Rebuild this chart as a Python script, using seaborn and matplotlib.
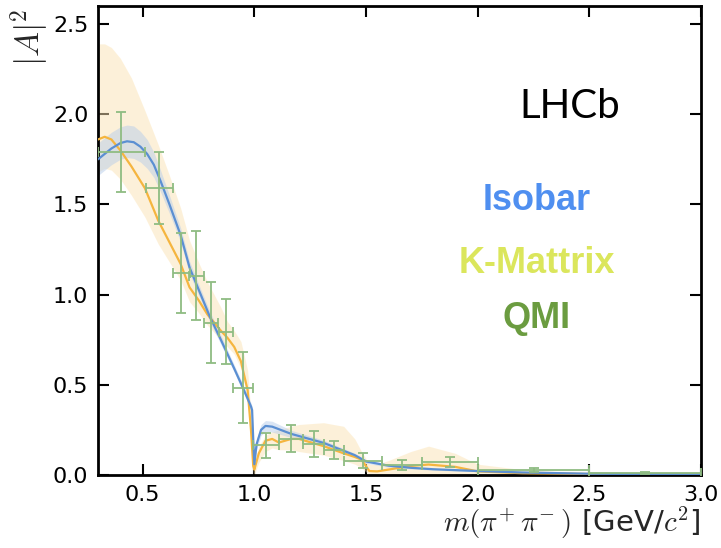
import numpy as np
import pandas as pd
import matplotlib
matplotlib.use("Agg")
import matplotlib.pyplot as plt
import seaborn as sns

# ---- Isobar model curve and band ----
iso_x = [0.30, 0.33, 0.36, 0.40, 0.43, 0.46, 0.49, 0.52, 0.55, 0.58, 0.62, 0.67, 0.71, 0.76, 0.80, 0.85, 0.91, 0.95, 0.985,
         0.99, 0.995, 1.00, 1.01, 1.03, 1.05, 1.08, 1.165, 1.31, 1.45, 1.50, 1.60, 1.70, 1.80, 2.00, 2.20, 2.50, 3.00]
iso_y = [1.75, 1.78, 1.81, 1.84, 1.85, 1.845, 1.82, 1.78, 1.72, 1.63, 1.50, 1.33, 1.15, 1.00, 0.88, 0.75, 0.59, 0.48, 0.38,
         0.36, 0.20, 0.06, 0.17, 0.25, 0.272, 0.268, 0.228, 0.178, 0.11, 0.075, 0.052, 0.040, 0.032, 0.022, 0.014, 0.007, 0.003]
iso_err = [0.09, 0.09, 0.09, 0.09, 0.09, 0.09, 0.085, 0.08, 0.07, 0.06, 0.05, 0.04, 0.035, 0.03, 0.03, 0.025, 0.02, 0.02, 0.02,
           0.02, 0.02, 0.02, 0.03, 0.03, 0.03, 0.03, 0.02, 0.015, 0.01, 0.01, 0.008, 0.006, 0.005, 0.004, 0.003, 0.002, 0.002]

# ---- K-matrix model curve and band ----
km_x = [0.30, 0.33, 0.36, 0.40, 0.45, 0.51, 0.57, 0.62, 0.67, 0.71, 0.75, 0.79, 0.85, 0.88, 0.91, 0.94, 0.97, 0.985,
        0.995, 1.00, 1.02, 1.05, 1.08, 1.11, 1.165, 1.20, 1.31, 1.40, 1.45, 1.48, 1.515, 1.55, 1.60, 1.70, 1.78, 1.90, 2.00, 2.20, 2.50, 3.00]
km_y = [1.86, 1.875, 1.86, 1.80, 1.71, 1.59, 1.41, 1.29, 1.17, 1.04, 0.97, 0.89, 0.80, 0.76, 0.71, 0.63, 0.47, 0.25,
        0.05, 0.03, 0.12, 0.19, 0.20, 0.18, 0.20, 0.20, 0.16, 0.12, 0.10, 0.085, 0.022, 0.02, 0.03, 0.05, 0.058, 0.045, 0.02, 0.01, 0.006, 0.003]
km_hi = [2.39, 2.39, 2.37, 2.31, 2.20, 2.02, 1.83, 1.66, 1.48, 1.30, 1.18, 1.07, 0.93, 0.85, 0.80, 0.74, 0.58, 0.34,
         0.10, 0.05, 0.16, 0.22, 0.24, 0.25, 0.27, 0.28, 0.29, 0.27, 0.20, 0.13, 0.06, 0.06, 0.08, 0.13, 0.16, 0.12, 0.06, 0.03, 0.01, 0.005]
km_lo = [1.68, 1.70, 1.69, 1.64, 1.55, 1.43, 1.28, 1.18, 1.08, 0.96, 0.90, 0.83, 0.75, 0.71, 0.67, 0.59, 0.43, 0.20,
         0.01, 0.00, 0.07, 0.13, 0.15, 0.14, 0.14, 0.13, 0.11, 0.08, 0.06, 0.04, 0.00, 0.00, 0.00, 0.00, 0.00, 0.00, 0.00, 0.00, 0.00, 0.00]

# ---- QMI data points ----
qmi_x = [0.405, 0.575, 0.672, 0.741, 0.806, 0.873, 0.950, 1.053, 1.165, 1.265, 1.355, 1.485, 1.660, 1.875, 2.250, 2.750]
qmi_xerr = [0.105, 0.060, 0.038, 0.032, 0.033, 0.033, 0.045, 0.058, 0.055, 0.045, 0.045, 0.085, 0.090, 0.125, 0.250, 0.250]
qmi_y = [1.79, 1.59, 1.12, 1.105, 0.845, 0.795, 0.485, 0.165, 0.200, 0.172, 0.139, 0.080, 0.056, 0.072, 0.028, 0.010]
qmi_yerr = [0.22, 0.20, 0.22, 0.245, 0.225, 0.18, 0.195, 0.07, 0.075, 0.07, 0.05, 0.04, 0.028, 0.03, 0.01, 0.005]

sns.set_style("ticks")
plt.rcParams["mathtext.fontset"] = "cm"
plt.rcParams["font.family"] = ["DejaVu Sans"]

fig = plt.figure(figsize=(7.21, 5.48), dpi=100)
ax = fig.add_axes([98 / 721, 1 - 475 / 548, (701 - 98) / 721, (475 - 6) / 548])

ORANGE = "#f5b53f"
BLUE = "#5b8fd2"
GREEN = "#8fbc82"

iso = pd.DataFrame({"x": iso_x, "y": iso_y, "e": iso_err})
km = pd.DataFrame({"x": km_x, "y": km_y, "lo": km_lo, "hi": km_hi})

ax.fill_between(km["x"], km["lo"], km["hi"], color="#fbe3b4", alpha=0.5, lw=0, zorder=1)
ax.fill_between(iso["x"], iso["y"] - iso["e"], iso["y"] + iso["e"], color="#b7cdea", alpha=0.5, lw=0, zorder=1)

sns.lineplot(data=km, x="x", y="y", ax=ax, color=ORANGE, lw=1.6, zorder=3, estimator=None, sort=False)
sns.lineplot(data=iso, x="x", y="y", ax=ax, color=BLUE, lw=1.6, zorder=4, estimator=None, sort=False)

ax.errorbar(qmi_x, qmi_y, xerr=qmi_xerr, yerr=qmi_yerr, fmt="none", ecolor=GREEN,
            elinewidth=1.3, capsize=3.5, capthick=1.3, zorder=5)

ax.set_xlim(0.3, 3.0)
ax.set_ylim(0, 2.6)
ax.set_xticks([0.5, 1.0, 1.5, 2.0, 2.5, 3.0])
ax.set_yticks([0.0, 0.5, 1.0, 1.5, 2.0, 2.5])
ax.set_xticklabels(["0.5", "1.0", "1.5", "2.0", "2.5", "3.0"])
ax.set_yticklabels(["0.0", "0.5", "1.0", "1.5", "2.0", "2.5"])
ax.tick_params(direction="in", length=8, width=1.5, top=True, right=True, labelsize=16, pad=7, colors="black")
for s in ax.spines.values():
    s.set_linewidth(2)
    s.set_color("black")
ax.set_xlabel("")
ax.set_ylabel("")

fig.text(30 / 721, 1 - 9 / 548, r"$|A|^2$", rotation=90, ha="center", va="top", fontsize=24)
fig.text(700 / 721, 1 - 532 / 548, r"$m(\pi^{+}\,\pi^{-}\,)$ [GeV/$c^2$]", ha="right", va="baseline", fontsize=21)

ax.text(0.783, 0.785, "LHCb", transform=ax.transAxes, ha="center", va="center",
        fontsize=29, family=["Lato", "DejaVu Sans"], color="black")
ax.text(0.728, 0.585, "Isobar", transform=ax.transAxes, ha="center", va="center",
        fontsize=26, fontweight="bold", family=["Liberation Sans", "DejaVu Sans"], color="#4f8ff0")
ax.text(0.728, 0.452, "K-Mattrix", transform=ax.transAxes, ha="center", va="center",
        fontsize=26, fontweight="bold", family=["Liberation Sans", "DejaVu Sans"], color="#dbe65c")
ax.text(0.728, 0.334, "QMI", transform=ax.transAxes, ha="center", va="center",
        fontsize=26, fontweight="bold", family=["Liberation Sans", "DejaVu Sans"], color="#6b9c40")

fig.savefig("out.png", dpi=100)
